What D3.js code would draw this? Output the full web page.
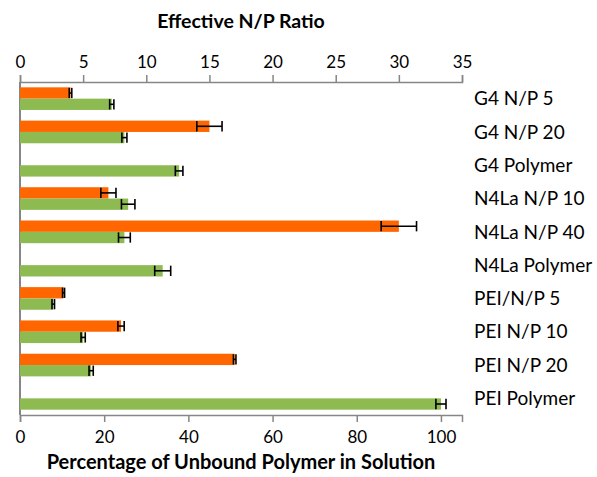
<!DOCTYPE html>
<html>
<head>
<meta charset="utf-8">
<script src="https://cdn.jsdelivr.net/npm/d3@7"></script>
<style>
  body { margin: 0; background: #fff; }
  text { font-family: Lato, "Open Sans", sans-serif; fill: #000; }
</style>
</head>
<body>
<svg id="chart" width="597" height="477"></svg>
<script>
var categories = ["G4 N/P 5", "G4 N/P 20", "G4 Polymer", "N4La N/P 10", "N4La N/P 40",
                  "N4La Polymer", "PEI/N/P 5", "PEI N/P 10", "PEI N/P 20", "PEI Polymer"];
// effective N/P ratio (top axis)
var npRatio = [4.0, 15.0, null, 7.0, 30.0, null, 3.45, 8.0, 17.0, null];
var npErr   = [0.1, 1.0, null, 0.6, 1.4, null, 0.08, 0.25, 0.1, null];
// percentage of unbound polymer (bottom axis)
var unbound    = [21.8, 24.8, 37.8, 25.7, 24.8, 33.9, 7.9, 15.0, 16.9, 100.0];
var unboundErr = [0.5, 0.6, 0.9, 1.6, 1.4, 1.9, 0.3, 0.5, 0.5, 1.2];
var topTicks = [0, 5, 10, 15, 20, 25, 30, 35];
var bottomTicks = [0, 20, 40, 60, 80, 100];

var margin = {top: 82, right: 135, bottom: 62, left: 20},
    width = 597 - margin.left - margin.right,
    height = 477 - margin.top - margin.bottom;

var svg = d3.select("#chart")
    .append("g")
    .attr("transform", "translate(" + margin.left + "," + margin.top + ")");

var xTop = d3.scaleLinear().domain([0, 35]).range([0, width]);
var xBot = d3.scaleLinear().domain([0, 105]).range([0, width]);

var y = d3.scaleBand().domain(categories).range([0, height]).padding(0);
var ySub = d3.scaleBand().domain(["np", "pct"]).range([0, y.bandwidth()])
    .paddingInner(0).paddingOuter(0.47);

var grey = "#868686";

// axes
var topAxis = svg.append("g")
    .call(d3.axisTop(xTop).tickValues(topTicks).tickSize(7).tickSizeOuter(7).tickPadding(7));
var botAxis = svg.append("g")
    .attr("transform", "translate(0," + height + ")")
    .call(d3.axisBottom(xBot).tickValues(bottomTicks).tickSize(7).tickSizeOuter(7).tickPadding(9));
[topAxis, botAxis].forEach(function(a) {
    a.selectAll("path, line").attr("stroke", grey).attr("stroke-width", 1.5);
    a.selectAll("text").style("font-size", "17px").style("font-family", "Lato, sans-serif");
});
svg.append("line")
    .attr("x1", 0).attr("x2", 0).attr("y1", 0).attr("y2", height)
    .attr("stroke", grey).attr("stroke-width", 2);

var rows = categories.map(function(c, i) {
    return {cat: c, np: npRatio[i], npE: npErr[i], pct: unbound[i], pctE: unboundErr[i]};
});

// bars
var series = [
    {key: "np", val: "np", err: "npE", x: xTop, color: "#ff6600"},
    {key: "pct", val: "pct", err: "pctE", x: xBot, color: "#8dbb52"}
];

series.forEach(function(s) {
    var data = rows.filter(function(d) { return d[s.val] != null; });
    svg.selectAll(".bar-" + s.key)
        .data(data)
        .enter()
        .append("rect")
        .attr("x", 0)
        .attr("y", function(d) { return y(d.cat) + ySub(s.key); })
        .attr("width", function(d) { return s.x(d[s.val]); })
        .attr("height", ySub.bandwidth())
        .attr("fill", s.color);

    var eb = svg.selectAll(".err-" + s.key)
        .data(data)
        .enter()
        .append("g")
        .attr("stroke", "#000")
        .attr("stroke-width", 1.6);
    eb.append("line")
        .attr("x1", function(d) { return s.x(d[s.val] - d[s.err]); })
        .attr("x2", function(d) { return s.x(d[s.val] + d[s.err]); })
        .attr("y1", function(d) { return y(d.cat) + ySub(s.key) + ySub.bandwidth() / 2; })
        .attr("y2", function(d) { return y(d.cat) + ySub(s.key) + ySub.bandwidth() / 2; });
    [-1, 1].forEach(function(sign) {
        eb.append("line")
            .attr("x1", function(d) { return s.x(d[s.val] + sign * d[s.err]); })
            .attr("x2", function(d) { return s.x(d[s.val] + sign * d[s.err]); })
            .attr("y1", function(d) { return y(d.cat) + ySub(s.key) + 0.5; })
            .attr("y2", function(d) { return y(d.cat) + ySub(s.key) + ySub.bandwidth() - 0.5; });
    });
});

// category labels on the right
svg.selectAll(".cat")
    .data(categories)
    .enter()
    .append("text")
    .attr("x", width + 12)
    .attr("y", function(d) { return y(d) + y.bandwidth() / 2; })
    .attr("dy", "0.35em")
    .style("font-size", "19px")
    .text(function(d) { return d; });

// axis titles
svg.append("text")
    .attr("x", width / 2)
    .attr("y", -54)
    .attr("text-anchor", "middle")
    .style("font-size", "19.5px")
    .style("font-weight", "bold")
    .text("Effective N/P Ratio");
svg.append("text")
    .attr("x", width / 2)
    .attr("y", height + 54)
    .attr("text-anchor", "middle")
    .style("font-size", "20px")
    .style("font-weight", "bold")
    .text("Percentage of Unbound Polymer in Solution");
</script>
</body>
</html>
